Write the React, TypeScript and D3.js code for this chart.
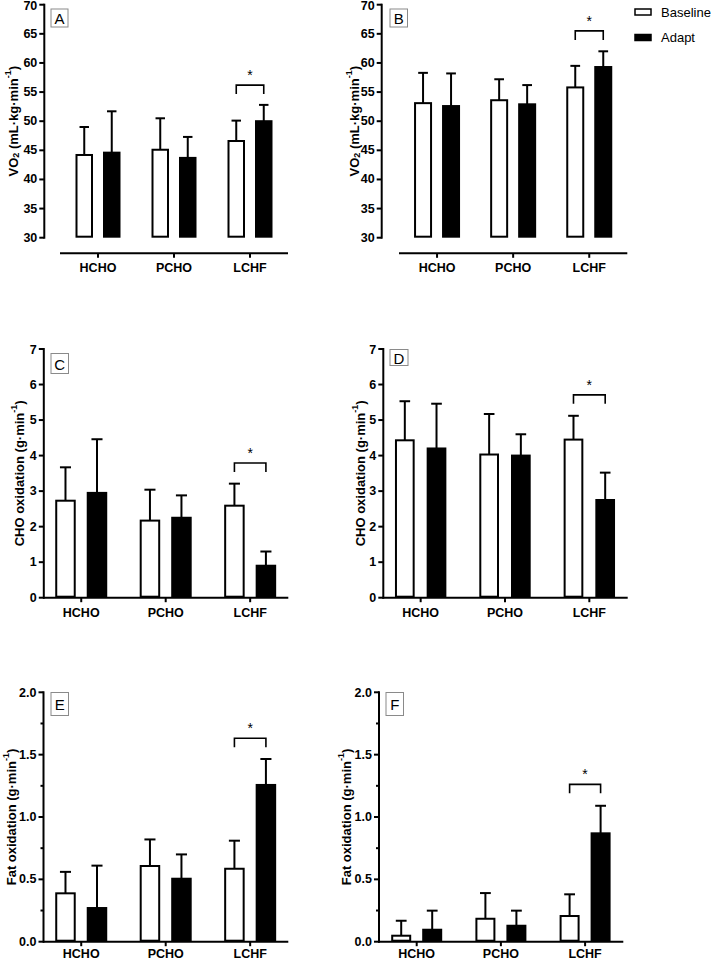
import React from "react";
import * as d3 from "d3";

// ---------- data ----------
const categories = ["HCHO", "PCHO", "LCHF"];
const seriesNames = ["Baseline", "Adapt"];

// Panel A: VO2 (left column)
const vo2BaseA = [44.2, 45.1, 46.6];
const vo2BaseSdA = [4.8, 5.4, 3.5];
const vo2AdaptA = [44.6, 43.7, 50.0];
const vo2AdaptSdA = [7.1, 3.6, 2.8];
// Panel B: VO2 (right column)
const vo2BaseB = [53.1, 53.6, 55.8];
const vo2BaseSdB = [5.2, 3.6, 3.7];
const vo2AdaptB = [52.6, 52.9, 59.3];
const vo2AdaptSdB = [5.6, 3.3, 2.7];
// Panel C: CHO oxidation
const choBaseC = [2.73, 2.17, 2.59];
const choBaseSdC = [0.94, 0.87, 0.62];
const choAdaptC = [2.95, 2.25, 0.9];
const choAdaptSdC = [1.51, 0.63, 0.4];
// Panel D: CHO oxidation
const choBaseD = [4.43, 4.03, 4.45];
const choBaseSdD = [1.1, 1.14, 0.67];
const choAdaptD = [4.2, 4.0, 2.75];
const choAdaptSdD = [1.26, 0.6, 0.77];
// Panel E: Fat oxidation
const fatBaseE = [0.388, 0.607, 0.585];
const fatBaseSdE = [0.172, 0.213, 0.225];
const fatAdaptE = [0.27, 0.505, 1.257];
const fatAdaptSdE = [0.34, 0.195, 0.208];
// Panel F: Fat oxidation
const fatBaseF = [0.048, 0.184, 0.206];
const fatBaseSdF = [0.12, 0.206, 0.174];
const fatAdaptF = [0.096, 0.128, 0.869];
const fatAdaptSdF = [0.153, 0.121, 0.221];

// significance bracket level (data units) on LCHF
const sigLevels = [56.2, 65.5, 3.79, 5.71, 1.631, 1.262];
const sigCategory = "LCHF";

const vo2Ticks = [30, 35, 40, 45, 50, 55, 60, 65, 70];
const choTicks = [0, 1, 2, 3, 4, 5, 6, 7];
const fatTicks = [0, 0.5, 1.0, 1.5, 2.0];
const fatMinorTicks = [0.25, 0.75, 1.25, 1.75];

const FONT = "Arial, 'Liberation Sans', Helvetica, sans-serif";

type PanelCfg = {
  letter: string;
  base: number[];
  baseSd: number[];
  adapt: number[];
  adaptSd: number[];
  sig: number;
  domain: [number, number];
  ticks: number[];
  minor?: number[];
  fmt: (v: number) => string;
  axisX: number;
  yRange: [number, number];
  bandRange: [number, number];
  xLine: [number, number];
  xAxisY: number;
  labelDy: number;
  barW: number;
  gap: number;
  box: [number, number, number, number];
  titleX: number;
  title: "vo2" | "cho" | "fat";
};

const fmtInt = (v: number) => d3.format("d")(v);
const fmt1 = (v: number) => d3.format(".1f")(v);

const panels: PanelCfg[] = [
  {
    letter: "A", base: vo2BaseA, baseSd: vo2BaseSdA, adapt: vo2AdaptA, adaptSd: vo2AdaptSdA,
    sig: sigLevels[0], domain: [30, 70], ticks: vo2Ticks, fmt: fmtInt,
    axisX: 44.3, yRange: [237.7, 4.7], bandRange: [60, 288], xLine: [60, 288], xAxisY: 253.3, labelDy: 19,
    barW: 17.5, gap: 10, box: [51, 9, 17, 18], titleX: 13, title: "vo2",
  },
  {
    letter: "B", base: vo2BaseB, baseSd: vo2BaseSdB, adapt: vo2AdaptB, adaptSd: vo2AdaptSdB,
    sig: sigLevels[1], domain: [30, 70], ticks: vo2Ticks, fmt: fmtInt,
    axisX: 381.7, yRange: [237.7, 4.7], bandRange: [399, 627.3], xLine: [399, 627.3], xAxisY: 253.3, labelDy: 19,
    barW: 18, gap: 10, box: [390, 9, 17.5, 18], titleX: 354, title: "vo2",
  },
  {
    letter: "C", base: choBaseC, baseSd: choBaseSdC, adapt: choAdaptC, adaptSd: choAdaptSdC,
    sig: sigLevels[2], domain: [0, 7], ticks: choTicks, fmt: fmtInt,
    axisX: 43.8, yRange: [597.7, 349], bandRange: [39, 292.4], xLine: [43, 288.3], xAxisY: 597.7, labelDy: 19,
    barW: 20.5, gap: 11, box: [51, 353.5, 17.5, 20], titleX: 19, title: "cho",
  },
  {
    letter: "D", base: choBaseD, baseSd: choBaseSdD, adapt: choAdaptD, adaptSd: choAdaptSdD,
    sig: sigLevels[3], domain: [0, 7], ticks: choTicks, fmt: fmtInt,
    axisX: 383.3, yRange: [597.7, 349], bandRange: [378.5, 631.5], xLine: [382.5, 627.7], xAxisY: 597.7, labelDy: 19,
    barW: 19.7, gap: 12, box: [390, 349.5, 18, 16], titleX: 360, title: "cho",
  },
  {
    letter: "E", base: fatBaseE, baseSd: fatBaseSdE, adapt: fatAdaptE, adaptSd: fatAdaptSdE,
    sig: sigLevels[4], domain: [0, 2], ticks: fatTicks, minor: fatMinorTicks, fmt: fmt1,
    axisX: 43.5, yRange: [941.7, 692.3], bandRange: [39, 292.4], xLine: [43, 288.3], xAxisY: 941.7, labelDy: 16.5,
    barW: 20.5, gap: 11, box: [51, 692.5, 17.5, 23], titleX: 11, title: "fat",
  },
  {
    letter: "F", base: fatBaseF, baseSd: fatBaseSdF, adapt: fatAdaptF, adaptSd: fatAdaptSdF,
    sig: sigLevels[5], domain: [0, 2], ticks: fatTicks, minor: fatMinorTicks, fmt: fmt1,
    axisX: 379, yRange: [941.7, 692.3], bandRange: [374.6, 627.2], xLine: [378.2, 623.3], xAxisY: 941.7, labelDy: 16.5,
    barW: 20, gap: 11, box: [386, 692.5, 17.5, 23], titleX: 346, title: "fat",
  },
];

function Title({ kind, x, y }: { kind: string; x: number; y: number }) {
  const common = {
    transform: `translate(${x},${y}) rotate(-90)`,
    textAnchor: "middle" as const,
    dominantBaseline: "central" as const,
    fontFamily: FONT,
    fontWeight: 700,
    fontSize: 13,
  };
  if (kind === "vo2") {
    return (
      <text {...common}>
        VO
        <tspan fontSize={9} dy={3}>2</tspan>
        <tspan dy={-3}> (mL·kg·min</tspan>
        <tspan fontSize={9} dy={-5}>-1</tspan>
        <tspan dy={5}>)</tspan>
      </text>
    );
  }
  const lead = kind === "cho" ? "CHO oxidation (g·min" : "Fat oxidation (g·min";
  return (
    <text {...common}>
      {lead}
      <tspan fontSize={9} dy={-5}>-1</tspan>
      <tspan dy={5}>)</tspan>
    </text>
  );
}

function Panel({ p }: { p: PanelCfg }) {
  const y = d3.scaleLinear().domain(p.domain).range(p.yRange);
  const x0 = d3.scaleBand<string>().domain(categories).range(p.bandRange).padding(0);
  const groupW = p.barW * 2 + p.gap;
  const x1 = d3
    .scaleBand<string>()
    .domain(seriesNames)
    .range([-groupW / 2, groupW / 2])
    .paddingInner(p.gap / (p.barW + p.gap))
    .paddingOuter(0);
  const center = (c: string) => (x0(c) as number) + x0.bandwidth() / 2;
  const seriesData = [
    { name: "Baseline", mean: p.base, sd: p.baseSd, fill: "#ffffff" },
    { name: "Adapt", mean: p.adapt, sd: p.adaptSd, fill: "#000000" },
  ];
  const bw = x1.bandwidth();
  const [y0, yTop] = [y(p.domain[0]), y(p.domain[1])];

  const sx1 = center(sigCategory) + (x1("Baseline") as number) + bw / 2;
  const sx2 = center(sigCategory) + (x1("Adapt") as number) + bw / 2;
  const sy = y(p.sig);

  return (
    <g>
      {/* bars + error bars */}
      {seriesData.map((s) =>
        categories.map((c, i) => {
          const bx = center(c) + (x1(s.name) as number);
          const top = y(s.mean[i]);
          const cap = y(s.mean[i] + s.sd[i]);
          const mid = bx + bw / 2;
          const half = bw * 0.27;
          return (
            <g key={s.name + c}>
              <line x1={mid} x2={mid} y1={top} y2={cap} stroke="#000" strokeWidth={2} />
              <line x1={mid - half} x2={mid + half} y1={cap} y2={cap} stroke="#000" strokeWidth={2} />
              <rect
                x={bx + 1}
                y={top}
                width={bw - 2}
                height={y0 - top - 1}
                fill={s.fill}
                stroke="#000"
                strokeWidth={2}
              />
            </g>
          );
        })
      )}

      {/* y axis */}
      <line x1={p.axisX} x2={p.axisX} y1={y0 + 1} y2={yTop - 1} stroke="#000" strokeWidth={2} />
      {p.ticks.map((t) => (
        <g key={"t" + t}>
          <line x1={p.axisX - 5} x2={p.axisX} y1={y(t)} y2={y(t)} stroke="#000" strokeWidth={2} />
          <text
            x={p.axisX - 7}
            y={y(t) + (t === p.domain[1] ? 0.8 : 0)}
            textAnchor="end"
            dominantBaseline="central"
            fontFamily={FONT}
            fontWeight={700}
            fontSize={12.5}
          >
            {p.fmt(t)}
          </text>
        </g>
      ))}
      {(p.minor || []).map((t) => (
        <line key={"m" + t} x1={p.axisX - 3} x2={p.axisX} y1={y(t)} y2={y(t)} stroke="#000" strokeWidth={2} />
      ))}

      {/* x axis */}
      <line x1={p.xLine[0]} x2={p.xLine[1]} y1={p.xAxisY} y2={p.xAxisY} stroke="#000" strokeWidth={2} />
      {categories.map((c) => (
        <g key={"x" + c}>
          <line x1={center(c)} x2={center(c)} y1={p.xAxisY} y2={p.xAxisY + 4.5} stroke="#000" strokeWidth={2} />
          <text
            x={center(c)}
            y={p.xAxisY + p.labelDy}
            textAnchor="middle"
            fontFamily={FONT}
            fontWeight={700}
            fontSize={12.5}
          >
            {c}
          </text>
        </g>
      ))}

      {/* significance */}
      <path d={`M${sx1},${sy + 9}V${sy}H${sx2}V${sy + 9}`} fill="none" stroke="#000" strokeWidth={1.6} />
      <text x={(sx1 + sx2) / 2} y={sy - 5} textAnchor="middle" fontFamily={FONT} fontSize={14}>
        *
      </text>

      {/* panel letter */}
      <rect x={p.box[0]} y={p.box[1]} width={p.box[2]} height={p.box[3]} fill="#fff" stroke="#8a8a8a" strokeWidth={1} />
      <text
        x={p.box[0] + p.box[2] / 2}
        y={p.box[1] + p.box[3] / 2 + 0.5}
        textAnchor="middle"
        dominantBaseline="central"
        fontFamily={FONT}
        fontSize={15}
      >
        {p.letter}
      </text>

      <Title kind={p.title} x={p.titleX} y={(y0 + yTop) / 2} />
    </g>
  );
}

export default function App() {
  return (
    <svg
      width={711}
      height={960}
      viewBox="0 0 711 960"
      style={{ position: "absolute", left: 0, top: 0, background: "#fff" }}
    >
      <rect width={711} height={960} fill="#fff" />
      {panels.map((p) => (
        <Panel key={p.letter} p={p} />
      ))}
      {/* legend */}
      <rect x={635} y={9} width={16} height={6} fill="#fff" stroke="#000" strokeWidth={1.5} />
      <text x={661} y={16.5} fontFamily={FONT} fontSize={13}>
        {seriesNames[0]}
      </text>
      <rect x={635} y={34.5} width={16} height={6} fill="#000" stroke="#000" strokeWidth={1.5} />
      <text x={661} y={42} fontFamily={FONT} fontSize={13}>
        {seriesNames[1]}
      </text>
    </svg>
  );
}
